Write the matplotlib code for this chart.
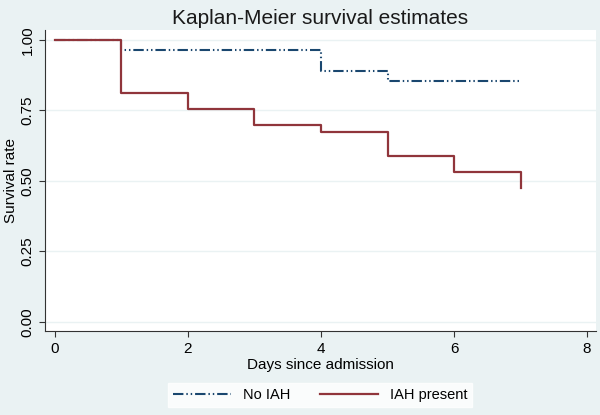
import matplotlib
matplotlib.use("Agg")
import matplotlib.pyplot as plt
import numpy as np

plt.rcParams['font.family'] = ['Liberation Sans', 'DejaVu Sans']

# step data (time, survival)
days = [0, 1, 2, 3, 4, 5, 6, 7]
no_iah = [1.0, 0.963, 0.963, 0.963, 0.891, 0.853, 0.853, 0.853]
iah_present = [1.0, 0.813, 0.756, 0.700, 0.673, 0.589, 0.532, 0.532]
iah_last = 0.475   # censoring drop at day 7

xticks = [0, 2, 4, 6, 8]
yticks = [0.0, 0.25, 0.50, 0.75, 1.00]
ytick_labels = ['0.00', '0.25', '0.50', '0.75', '1.00']

bg = '#EAF2F3'
navy = '#1A476F'
maroon = '#90353B'

fig = plt.figure(figsize=(6, 4.15), dpi=100)
fig.patch.set_facecolor(bg)
ax = fig.add_axes([45/600, 1 - 331/415, (596 - 45)/600, (331 - 30)/415])
ax.set_facecolor('white')

ax.step(days, no_iah, where='post', color=navy, lw=1.5,
        dashes=(5, 1.4, 0.7, 1.4, 0.7, 1.4), label='No IAH', zorder=3)
ax.step(days + [7], iah_present + [iah_last], where='post', color=maroon,
        lw=1.6, label='IAH present', zorder=4)

ax.set_xlim(-0.15, 8.135)
ax.set_ylim(-0.032, 1.035)
ax.set_xticks(xticks)
ax.set_yticks(yticks)
ax.set_yticklabels(ytick_labels, rotation=90, va='center')
ax.tick_params(axis='both', labelsize=11, length=4, width=0.8,
               color='#333333', labelcolor='black')
ax.tick_params(axis='x', pad=4)
ax.grid(axis='y', color=bg, lw=1.0, zorder=0)
ax.set_axisbelow(True)

for s in ['top', 'right']:
    ax.spines[s].set_visible(False)
for s in ['left', 'bottom']:
    ax.spines[s].set_color('#333333')
    ax.spines[s].set_linewidth(0.8)

ax.set_xlabel('Days since admission', fontsize=11, labelpad=1)
ax.set_ylabel('Survival rate', fontsize=11, labelpad=2)
ax.set_title('Kaplan-Meier survival estimates', fontsize=15,
             color='#1a1a1a', pad=4)

leg = fig.legend(loc='center', bbox_to_anchor=(320/600, 1 - 395/415), ncol=2,
                 fontsize=10.5, frameon=True, fancybox=False, handlelength=4.0,
                 columnspacing=2.0, borderpad=0.35)
leg.get_frame().set_facecolor('white')
leg.get_frame().set_edgecolor('white')

fig.savefig('out.png', dpi=100, facecolor=bg)
